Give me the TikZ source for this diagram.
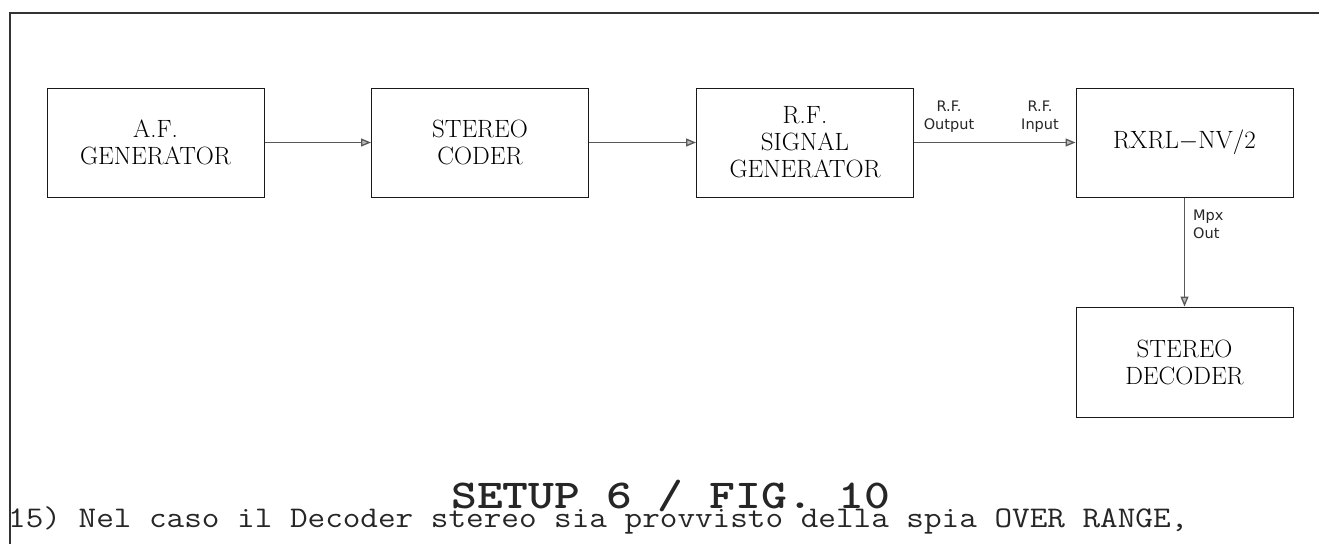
\documentclass[tikz,border=0pt]{standalone}
\usepackage{fontspec}
\usetikzlibrary{arrows.meta}
\newfontfamily\lblfont{DejaVu Sans}
\begin{document}
\begin{tikzpicture}[x=1pt,y=-1pt,
  blk/.style={draw=black!90,line width=1pt,rectangle,minimum width=217pt,minimum height=109pt,
    inner sep=0pt,align=center,font=\fontsize{25}{27}\selectfont},
  conn/.style={draw=black!65,line width=1.3pt,-{Triangle[length=10pt,width=8pt,fill=gray!55]}},
  lbl/.style={inner sep=0pt,font=\lblfont\fontsize{14.5}{18}\selectfont,text=black!85}]
\useasboundingbox (0,0) rectangle (1319,544);
\draw[line width=2.2pt,draw=black!80] (10,544) -- (10,13) -- (1319,13);
\node[blk] (af) at (155.5,142.5) {A.F.\\GENERATOR};
\node[blk] (sc) at (480,142.5) {STEREO\\CODER};
\node[blk] (rf) at (805,142.5) {R.F.\\SIGNAL\\GENERATOR};
\node[blk] (rx) at (1184.5,142.5) {RXRL$-$NV/2};
\node[blk,minimum height=110pt] (dec) at (1184.5,362) {STEREO\\DECODER};
\draw[conn] (af) -- (sc);
\draw[conn] (sc) -- (rf);
\draw[conn] (rf) -- (rx);
\draw[conn] (rx) -- (dec);
\node[lbl,align=center] (rfo) at (949,117) {R.F.\\Output};
\node[lbl,align=center] (rfi) at (1040,117) {R.F.\\Input};
\node[lbl,align=left,anchor=west] (mpx) at (1193,224) {Mpx\\Out};
\node[anchor=base west,inner sep=0pt,xscale=1.2,transform shape,font=\ttfamily\bfseries\fontsize{41}{41}\selectfont,text=black!85] (title) at (451,508) {SETUP 6 / FIG. 10};
\node[anchor=base west,inner sep=0pt,xscale=1.14,transform shape,font=\ttfamily\fontsize{30}{30}\selectfont,text=black!85] (body) at (8,527) {15) Nel caso il Decoder stereo sia provvisto della spia OVER RANGE,};
\end{tikzpicture}
\end{document}
